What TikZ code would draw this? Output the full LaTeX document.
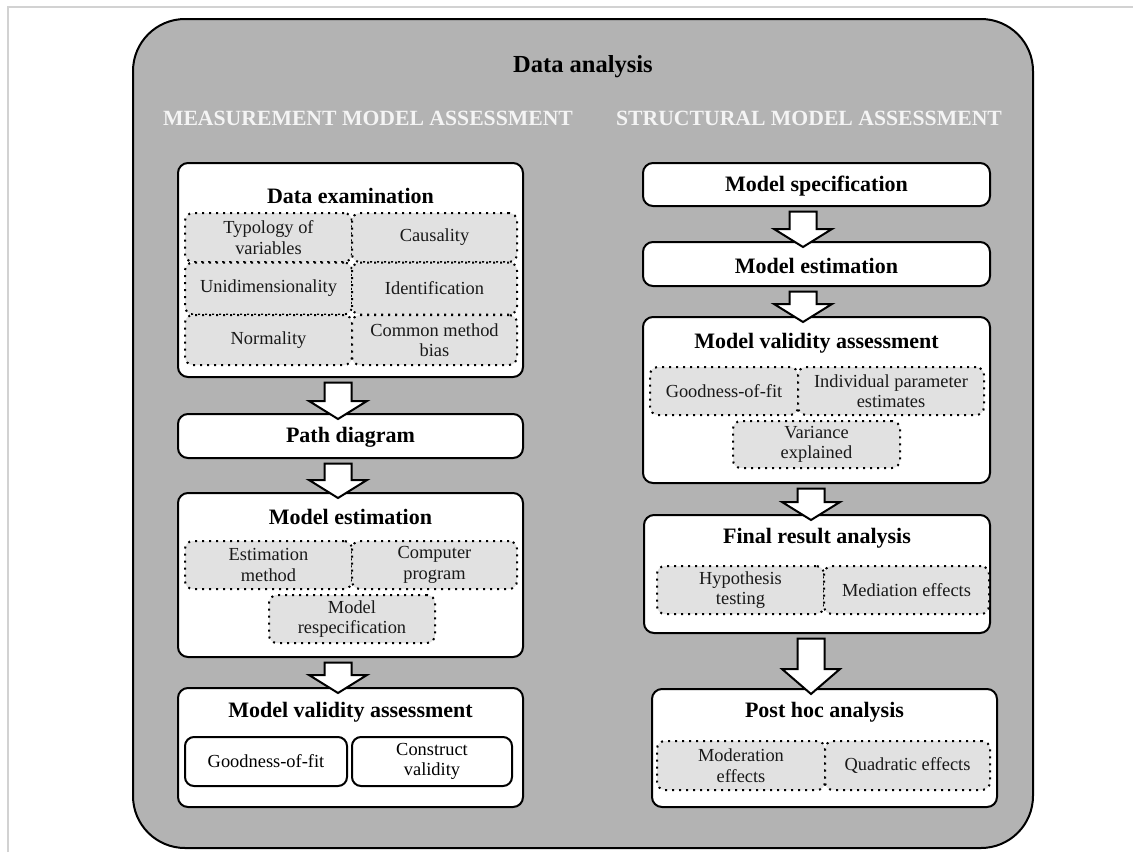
\documentclass[tikz,border=0pt]{standalone}
\usepackage{fontspec}
\setmainfont{Liberation Serif}
\usetikzlibrary{calc}
\definecolor{panelgrey}{HTML}{B3B3B3}
\definecolor{subgrey}{HTML}{E1E1E1}
\definecolor{framegrey}{HTML}{D2D2D2}
\definecolor{headwhite}{HTML}{F4F4F4}

% block arrow from the bottom of #1 into the top of #2, centred at x=#3, head length #4
\newcommand{\stagearrow}[4]{%
  \draw[blockarrow] let \p1=(#1.south), \p2=(#2.north) in
    (#3pt-13.5pt,\y1-4.5pt) -- (#3pt+13.5pt,\y1-4.5pt)
    -- (#3pt+13.5pt,\y2-6pt+#4pt) -- (#3pt+29pt,\y2-6pt+#4pt)
    -- (#3pt,\y2-6pt)
    -- (#3pt-29pt,\y2-6pt+#4pt) -- (#3pt-13.5pt,\y2-6pt+#4pt) -- cycle;
}

\begin{document}
\begin{tikzpicture}[x=1pt,y=-1pt,
  panel/.style={draw=black, line width=2pt, fill=panelgrey, rounded corners=52pt},
  stagebox/.style={draw=black, line width=2pt, fill=white, rounded corners=10pt,
    inner sep=0pt, minimum width=#1},
  dotbox/.style={draw=black, line width=2pt, fill=subgrey, rounded corners=8pt,
    dash pattern=on 2pt off 5pt, inner sep=0pt, align=center,
    font=\fontsize{18.4}{20.5}\selectfont, text=black!90, minimum height=49pt},
  solidbox/.style={draw=black, line width=2pt, fill=white, rounded corners=9pt,
    inner sep=0pt, align=center, font=\fontsize{18.4}{20.5}\selectfont,
    minimum height=49pt},
  boxtitle/.style={font=\fontsize{22}{24}\selectfont\bfseries, inner sep=0pt},
  sectiontitle/.style={font=\fontsize{21.7}{23}\selectfont\bfseries, text=headwhite, inner sep=0pt},
  blockarrow/.style={draw=black, line width=2pt, fill=white, line join=miter},
]
\useasboundingbox (0,0) rectangle (1133,852);

% outer frame edges
\draw[framegrey, line width=2pt] (8,852) -- (8,7) -- (1133,7);

% main panel
\node[panel, minimum width=900pt, minimum height=829pt, inner sep=0pt] (main) at (583,433.5) {};
\node[font=\fontsize{24.5}{26}\selectfont\bfseries, inner sep=0pt] (title) at (583,67) {Data analysis};
\node[sectiontitle] (mhead) at (368,118) {MEASUREMENT MODEL ASSESSMENT};
\node[sectiontitle] (shead) at (809,118) {STRUCTURAL MODEL ASSESSMENT};

% ---------- measurement model column ----------
\node[stagebox=345pt, minimum height=214pt] (de) at (350.5,270) {};
\node[boxtitle] (detitle) at (350.5,196) {Data examination};
\node[dotbox, minimum width=167pt] (d1) at (268.5,237.5) {Typology of\\variables};
\node[dotbox, minimum width=165pt] (d2) at (434.5,237.5) {Causality};
\node[dotbox, minimum width=167pt, minimum height=52pt] (d3) at (268.5,288.5) {Unidimensionality};
\node[dotbox, minimum width=165pt, minimum height=52pt] (d4) at (434.5,288.5) {Identification};
\node[dotbox, minimum width=167pt, minimum height=50pt] (d5) at (268.5,340) {Normality};
\node[dotbox, minimum width=165pt, minimum height=50pt] (d6) at (434.5,340) {Common method\\bias};

\node[stagebox=345pt, minimum height=44pt] (pd) at (350.5,436) {};
\node[boxtitle] (pdtitle) at (350.5,437) {Path diagram};

\node[stagebox=345pt, minimum height=164pt] (me) at (350.5,575) {};
\node[boxtitle] (metitle) at (350.5,517) {Model estimation};
\node[dotbox, minimum width=167pt, minimum height=48pt] (e1) at (268.5,565) {Estimation\\method};
\node[dotbox, minimum width=165pt, minimum height=48pt] (e2) at (434.5,565) {Computer\\program};
\node[dotbox, minimum width=166pt, minimum height=48pt] (e3) at (352,619) {Model\\respecification};

\node[stagebox=345pt, minimum height=119pt] (mv) at (350.5,747.5) {};
\node[boxtitle] (mvtitle) at (350.5,712) {Model validity assessment};
\node[solidbox, minimum width=162pt] (v1) at (266,761.5) {Goodness-of-fit};
\node[solidbox, minimum width=160pt] (v2) at (432,761.5) {Construct\\validity};

\stagearrow{de}{pd}{338}{18}
\stagearrow{pd}{me}{338}{18}
\stagearrow{me}{mv}{338}{18}

% ---------- structural model column ----------
\node[stagebox=347pt, minimum height=43pt] (ms) at (816.5,184.5) {};
\node[boxtitle] (mstitle) at (816.5,186) {Model specification};

\node[stagebox=347pt, minimum height=44pt] (se) at (816.5,264) {};
\node[boxtitle] (setitle) at (816.5,266) {Model estimation};

\node[stagebox=347pt, minimum height=166pt] (sv) at (816.5,400) {};
\node[boxtitle] (svtitle) at (816.5,343) {Model validity assessment};
\node[dotbox, minimum width=148pt, minimum height=48pt] (s1) at (724,391) {Goodness-of-fit};
\node[dotbox, minimum width=186pt, minimum height=48pt] (s2) at (891,391) {Individual parameter\\estimates};
\node[dotbox, minimum width=167pt, minimum height=47pt] (s3) at (816.5,444.5) {Variance\\explained};

\node[stagebox=346pt, minimum height=118pt] (fr) at (817,574) {};
\node[boxtitle] (frtitle) at (817,538) {Final result analysis};
\node[dotbox, minimum width=167pt, minimum height=48pt] (f1) at (740.5,590) {Hypothesis\\testing};
\node[dotbox, minimum width=165pt, minimum height=48pt] (f2) at (906.5,590) {Mediation effects};

\node[stagebox=345pt, minimum height=118pt] (ph) at (824.5,748) {};
\node[boxtitle] (phtitle) at (824.5,712) {Post hoc analysis};
\node[dotbox, minimum width=168pt, minimum height=49pt] (p1) at (741,765.5) {Moderation\\effects};
\node[dotbox, minimum width=165pt, minimum height=49pt] (p2) at (907.5,765.5) {Quadratic effects};

\stagearrow{ms}{se}{803}{18}
\stagearrow{se}{sv}{803}{18}
\stagearrow{sv}{fr}{811}{18}
\stagearrow{fr}{ph}{811}{25}
\end{tikzpicture}
\end{document}
